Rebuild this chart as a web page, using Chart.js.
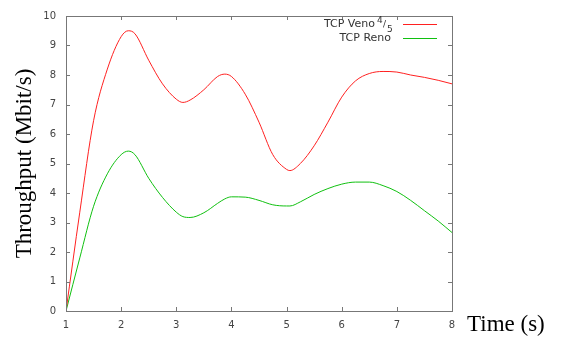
<!DOCTYPE html>
<html>
<head>
<meta charset="utf-8">
<script src="https://cdn.jsdelivr.net/npm/chart.js@4"></script>
<style>
  html, body { margin: 0; padding: 0; background: #fff; }
  #wrap { width: 565px; height: 338px; }
</style>
</head>
<body>
<div id="wrap"><canvas id="chart" width="565" height="338"></canvas></div>
<script>
const timeValues = [1, 1.25, 1.5, 1.75, 2, 2.13, 2.25, 2.5, 2.75, 3, 3.12, 3.25, 3.5, 3.75, 3.88, 4, 4.25, 4.5, 4.75, 5, 5.06, 5.25, 5.5, 5.75, 6, 6.25, 6.5, 6.75, 7, 7.25, 7.5, 7.75, 8];
const venoValues = [0, 3.35, 6.45, 8.2, 9.3, 9.5, 9.4, 8.5, 7.7, 7.18, 7.07, 7.15, 7.5, 7.95, 8.03, 7.95, 7.35, 6.4, 5.3, 4.8, 4.76, 5.0, 5.6, 6.4, 7.25, 7.8, 8.05, 8.12, 8.1, 8.0, 7.92, 7.82, 7.7];
const renoValues = [0, 1.8, 3.55, 4.65, 5.3, 5.42, 5.3, 4.5, 3.85, 3.35, 3.2, 3.17, 3.33, 3.65, 3.8, 3.87, 3.86, 3.75, 3.6, 3.56, 3.56, 3.7, 3.95, 4.15, 4.3, 4.37, 4.37, 4.25, 4.05, 3.75, 3.4, 3.05, 2.66];
const xTicks = [1, 2, 3, 4, 5, 6, 7, 8];
const yTicks = [0, 1, 2, 3, 4, 5, 6, 7, 8, 9, 10];

const toPoints = (vals) => timeValues.map((t, i) => ({ x: t, y: vals[i] }));

// frame, inward ticks, legend and x title, drawn like gnuplot
const gnuplotDecor = {
  id: 'gnuplotDecor',
  afterDatasetsDraw(chart) {
    const { ctx, chartArea: a, scales } = chart;
    ctx.save();
    ctx.strokeStyle = '#777';
    ctx.lineWidth = 1;
    ctx.strokeRect(a.left + 0.5, a.top + 0.5, a.right - a.left, a.bottom - a.top);
    ctx.beginPath();
    xTicks.forEach((v) => {
      const px = Math.round(scales.x.getPixelForValue(v)) + 0.5;
      ctx.moveTo(px, a.bottom); ctx.lineTo(px, a.bottom - 4);
      ctx.moveTo(px, a.top); ctx.lineTo(px, a.top + 4);
    });
    yTicks.forEach((v) => {
      const py = Math.round(scales.y.getPixelForValue(v)) + 0.5;
      ctx.moveTo(a.left, py); ctx.lineTo(a.left + 4, py);
      ctx.moveTo(a.right, py); ctx.lineTo(a.right - 4, py);
    });
    ctx.stroke();

    // legend
    const ds = chart.data.datasets;
    ctx.fillStyle = '#333';
    ctx.font = '11px "DejaVu Sans"';
    ctx.textAlign = 'right';
    ctx.textBaseline = 'middle';
    ctx.fillText('TCP Veno', 375, 24);
    ctx.fillText('TCP Reno', 391, 38);
    ctx.textAlign = 'left';
    ctx.font = '9px "DejaVu Sans"';
    ctx.fillText('4', 377, 21);
    ctx.fillText('/', 383, 25);
    ctx.fillText('5', 387, 30);
    ctx.lineWidth = 1;
    [[24.5, ds[0].borderColor], [38.5, ds[1].borderColor]].forEach(([y, c]) => {
      ctx.strokeStyle = c;
      ctx.beginPath();
      ctx.moveTo(403, y); ctx.lineTo(437, y);
      ctx.stroke();
    });

    // x axis title to the right of the plot
    ctx.fillStyle = '#000';
    ctx.font = '23px "Liberation Serif"';
    ctx.textAlign = 'left';
    ctx.textBaseline = 'alphabetic';
    ctx.fillText('Time (s)', 467, 331);
    ctx.restore();
  }
};

new Chart(document.getElementById('chart'), {
  type: 'line',
  data: {
    datasets: [
      {
        label: 'TCP Veno 4/5',
        data: toPoints(venoValues),
        borderColor: '#ff2020',
        borderWidth: 1,
        pointRadius: 0,
        fill: false,
        cubicInterpolationMode: 'monotone',
      },
      {
        label: 'TCP Reno',
        data: toPoints(renoValues),
        borderColor: '#10c010',
        borderWidth: 1,
        pointRadius: 0,
        fill: false,
        cubicInterpolationMode: 'monotone',
      },
    ],
  },
  options: {
    responsive: false,
    animation: false,
    layout: { padding: { top: 15, right: 113, left: 0, bottom: 0 } },
    plugins: {
      legend: { display: false },
      tooltip: { enabled: false },
    },
    scales: {
      x: {
        type: 'linear',
        min: 1,
        max: 8,
        afterFit: (s) => { s.height = 27; },
        afterBuildTicks: (s) => { s.ticks = xTicks.map((v) => ({ value: v })); },
        grid: { display: false, drawTicks: false },
        border: { display: false },
        ticks: {
          color: '#444',
          padding: 8,
          font: { family: 'DejaVu Sans', size: 10 },
        },
      },
      y: {
        min: 0,
        max: 10,
        afterFit: (s) => { s.width = 66; },
        afterBuildTicks: (s) => { s.ticks = yTicks.map((v) => ({ value: v })); },
        grid: { display: false, drawTicks: false },
        border: { display: false },
        title: {
          display: true,
          text: 'Throughput (Mbit/s)',
          color: '#000',
          padding: { top: 11, bottom: 0 },
          font: { family: 'Liberation Serif', size: 23, weight: 'normal' },
        },
        ticks: {
          color: '#444',
          padding: 10,
          font: { family: 'DejaVu Sans', size: 10 },
        },
      },
    },
  },
  plugins: [gnuplotDecor],
});
</script>
</body>
</html>
